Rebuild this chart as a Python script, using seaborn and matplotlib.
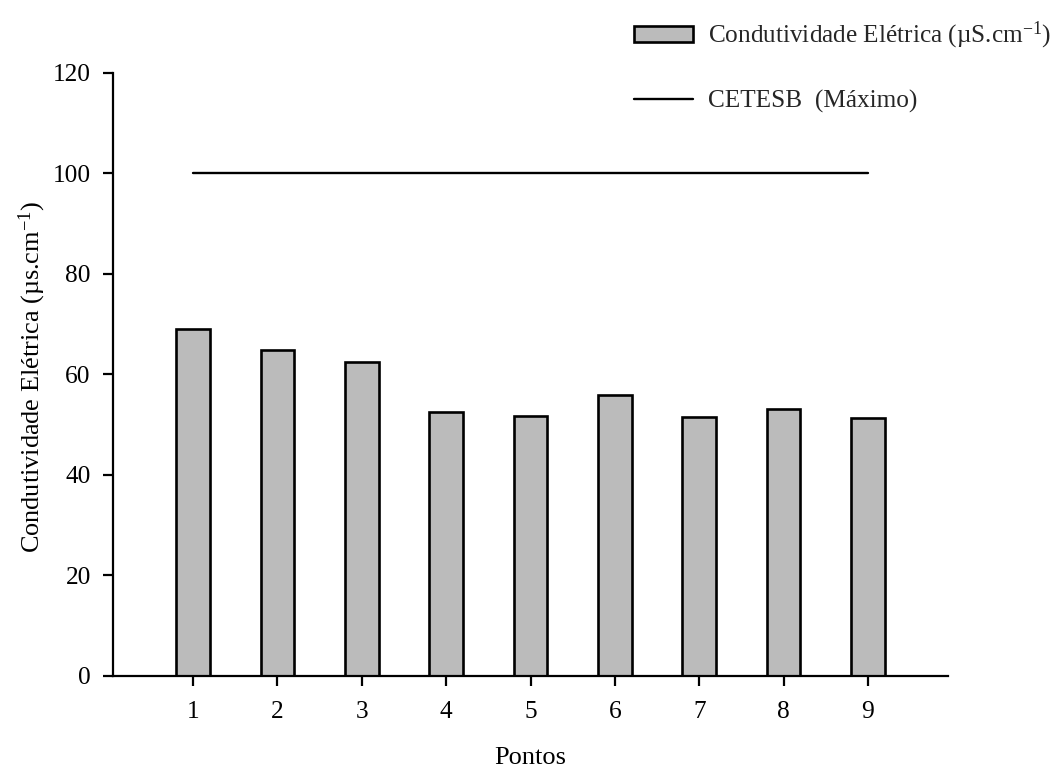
import matplotlib
matplotlib.use("Agg")
import matplotlib.pyplot as plt
import seaborn as sns
import pandas as pd
from matplotlib.patches import Patch
from matplotlib.lines import Line2D

# Electrical conductivity per sampling point
pontos = ["1", "2", "3", "4", "5", "6", "7", "8", "9"]
condutividade = [69.1, 64.9, 62.5, 52.5, 51.7, 55.9, 51.6, 53.2, 51.3]
cetesb_maximo = 100
y_ticks = [0, 20, 40, 60, 80, 100, 120]

sns.set_theme(style="ticks")
plt.rcParams["font.family"] = ["Liberation Serif", "DejaVu Serif"]
plt.rcParams["mathtext.fontset"] = "custom"
plt.rcParams["mathtext.rm"] = "Liberation Serif"
plt.rcParams["mathtext.it"] = "Liberation Serif:italic"
plt.rcParams["mathtext.bf"] = "Liberation Serif:bold"

FS_TICK = 18.3
FS_XLAB = 19.0
FS_YLAB = 18.9
FS_LEG = 18.2

df = pd.DataFrame({"Ponto": pontos, "Condutividade": condutividade})

fig = plt.figure(figsize=(10.62, 7.73), dpi=100)
ax = fig.add_axes([0.1064, 0.1255, 0.7863, 0.7801])

sns.barplot(data=df, x="Ponto", y="Condutividade", order=pontos, ax=ax,
            color="#bbbbbb", saturation=1, width=0.4,
            edgecolor="black", linewidth=1.9)

# CETESB limit drawn across all sampling points
idx = list(range(len(pontos)))
sns.lineplot(x=idx, y=[cetesb_maximo] * len(idx), ax=ax,
             color="black", linewidth=1.7)

ax.set_xlim(-0.95, 8.95)
ax.set_ylim(0, 120)
ax.set_yticks(y_ticks)
ax.set_yticklabels([str(v) for v in y_ticks])

for s in ["top", "right"]:
    ax.spines[s].set_visible(False)
for s in ["left", "bottom"]:
    ax.spines[s].set_linewidth(1.6)
    ax.spines[s].set_color("black")

ax.tick_params(axis="both", direction="out", length=7, width=1.6,
               color="black", labelsize=FS_TICK, labelcolor="black")
ax.tick_params(axis="x", pad=11)
ax.tick_params(axis="y", pad=9)

ax.set_xlabel("Pontos", fontsize=FS_XLAB, color="black")
ax.xaxis.set_label_coords(0.5, -0.118)
ax.set_ylabel("Condutividade Elétrica (µs.cm$^{-1}$)", fontsize=FS_YLAB, color="black")
ax.yaxis.set_label_coords(-0.078, 0.495)

handles = [
    Patch(facecolor="#bbbbbb", edgecolor="black", linewidth=1.9),
    Line2D([0], [0], color="black", linewidth=1.7),
]
labels = ["Condutividade Elétrica (µS.cm$^{-1}$)", "CETESB  (Máximo)"]
fig.legend(handles, labels, loc="upper left",
           bbox_to_anchor=(634 / 1062, 1 - 20 / 773),
           frameon=False, fontsize=FS_LEG, handlelength=2.35, handleheight=0.6,
           handletextpad=0.58, labelspacing=1.52, borderpad=0, borderaxespad=0)

fig.savefig("out.png", dpi=100, facecolor="white")
